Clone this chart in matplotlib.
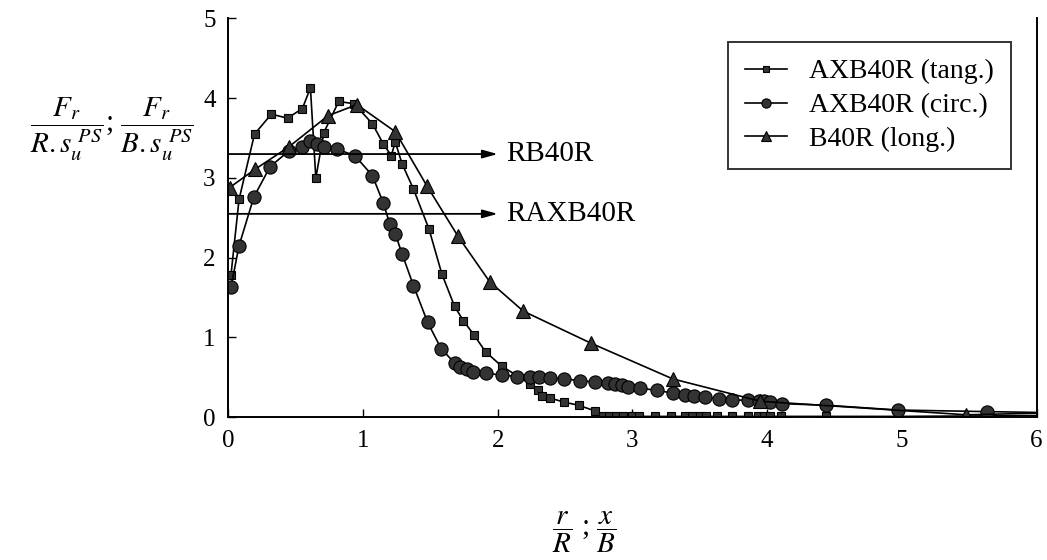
import matplotlib
matplotlib.use("Agg")
import matplotlib.pyplot as plt

plt.rcParams['font.family'] = ['Liberation Serif', 'DejaVu Serif']
plt.rcParams['mathtext.fontset'] = 'stix'

# AXB40R (tang.) - squares
tang_x = [0.02, 0.08, 0.195, 0.32, 0.44, 0.55, 0.61, 0.65, 0.71, 0.82, 0.935, 1.07,
          1.15, 1.21, 1.24, 1.29, 1.375, 1.49, 1.585, 1.68, 1.745, 1.825, 1.91, 2.03,
          2.24, 2.30, 2.33, 2.39, 2.49, 2.60, 2.72, 2.78, 2.83, 2.88, 2.93, 3.00, 3.05,
          3.17, 3.29, 3.39, 3.44, 3.50, 3.55, 3.63, 3.74, 3.86, 3.93, 3.98, 4.02, 4.10,
          4.44, 4.97, 6.0]
tang_y = [1.78, 2.73, 3.55, 3.80, 3.75, 3.87, 4.13, 3.00, 3.57, 3.96, 3.93, 3.68,
          3.43, 3.28, 3.45, 3.18, 2.86, 2.36, 1.80, 1.39, 1.21, 1.03, 0.82, 0.64,
          0.42, 0.34, 0.26, 0.24, 0.19, 0.15, 0.08, 0.02, 0.01, 0.01, 0.01, 0.01, 0.01,
          0.01, 0.01, 0.01, 0.01, 0.01, 0.01, 0.01, 0.01, 0.01, 0.01, 0.01, 0.01, 0.01,
          0.01, 0.01, 0.02]

# AXB40R (circ.) - circles
circ_x = [0.02, 0.08, 0.19, 0.31, 0.45, 0.55, 0.61, 0.66, 0.71, 0.81, 0.94, 1.07,
          1.15, 1.20, 1.24, 1.29, 1.375, 1.48, 1.58, 1.68, 1.72, 1.77, 1.82, 1.91,
          2.03, 2.14, 2.24, 2.31, 2.39, 2.49, 2.61, 2.72, 2.82, 2.87, 2.92, 2.97,
          3.06, 3.18, 3.30, 3.39, 3.46, 3.54, 3.64, 3.74, 3.86, 3.94, 3.98, 4.02,
          4.11, 4.44, 4.97, 5.63, 6.0]
circ_y = [1.63, 2.15, 2.76, 3.14, 3.34, 3.39, 3.46, 3.42, 3.39, 3.36, 3.28, 3.03,
          2.69, 2.42, 2.30, 2.05, 1.65, 1.19, 0.86, 0.68, 0.63, 0.60, 0.57, 0.55,
          0.53, 0.51, 0.51, 0.50, 0.49, 0.48, 0.46, 0.44, 0.43, 0.42, 0.40, 0.38,
          0.36, 0.34, 0.30, 0.28, 0.26, 0.25, 0.23, 0.22, 0.21, 0.20, 0.20, 0.19,
          0.17, 0.15, 0.09, 0.07, 0.06]

# B40R (long.) - triangles
long_x = [0.01, 0.20, 0.45, 0.74, 0.955, 1.24, 1.475, 1.705, 1.94, 2.19, 2.69, 3.30,
          3.95, 5.48, 6.0]
long_y = [2.88, 3.11, 3.39, 3.78, 3.92, 3.58, 2.90, 2.27, 1.70, 1.33, 0.93, 0.48,
          0.20, 0.03, 0.05]

ref_levels = [3.30, 2.55]
ref_names = ["RB40R", "RAXB40R"]
ref_end = 2.0

fig = plt.figure(figsize=(10.47, 5.6), dpi=100)
ax = fig.add_axes([0.218, 0.255, 0.772, 0.712])

face = '#333333'
ax.plot(tang_x, tang_y, color='black', lw=1.2, marker='s', ms=6.2,
        mfc=face, mec='black', mew=0.8, markevery=slice(0, -1), label='AXB40R (tang.)')
ax.plot(circ_x, circ_y, color='black', lw=1.2, marker='o', ms=9.5,
        mfc=face, mec='black', mew=0.8, markevery=slice(0, -1), label='AXB40R (circ.)')
ax.plot(long_x, long_y, color='black', lw=1.2, marker='^', ms=9.5,
        mfc=face, mec='black', mew=0.8, markevery=slice(0, -1), label='B40R (long.)')

for lev, name in zip(ref_levels, ref_names):
    ax.annotate('', xy=(ref_end, lev), xytext=(0, lev),
                arrowprops=dict(arrowstyle='-|>,head_length=0.9,head_width=0.25',
                                color='black', lw=1.3, shrinkA=0, shrinkB=0))
    ax.text(ref_end + 0.06, lev, name, fontsize=21, va='center', ha='left')

ax.set_xlim(0, 6)
ax.set_ylim(0, 5)
ax.set_xticks(range(0, 7))
ax.set_yticks(range(0, 6))
ax.tick_params(direction='in', length=6, width=1, labelsize=18, pad=9)
ax.spines['top'].set_visible(False)
for s in ['left', 'bottom', 'right']:
    ax.spines[s].set_linewidth(1.4)

leg = ax.legend(loc='upper right', bbox_to_anchor=(0.985, 0.975), fontsize=20,
                frameon=True, fancybox=False, edgecolor='black', markerscale=0.7,
                handlelength=1.5, handletextpad=0.8, borderpad=0.6, labelspacing=0.3)
leg.get_frame().set_linewidth(1.4)

fig.text(0.107, 0.77, r'$\dfrac{F_r}{R.s_u^{\ PS}}$; $\dfrac{F_r}{B.s_u^{\ PS}}$',
         fontsize=21, ha='center', va='center')
fig.text(0.558, 0.05, r'$\dfrac{r}{R}$ ; $\dfrac{x}{B}$', fontsize=21,
         ha='center', va='center')

fig.savefig('out.png', dpi=100)
